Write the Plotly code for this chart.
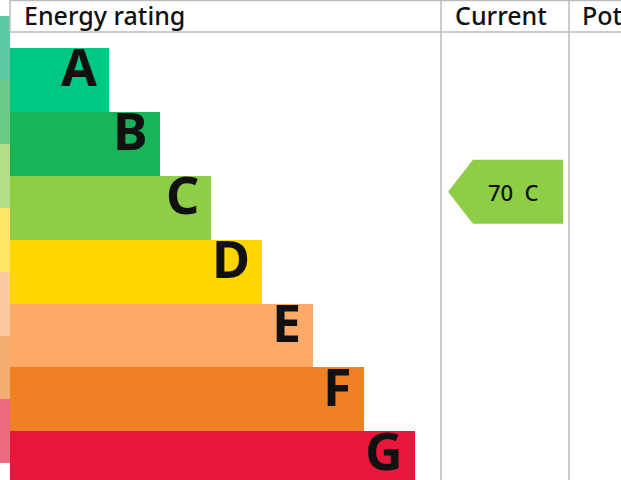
import plotly.graph_objects as go

bands = ["A", "B", "C", "D", "E", "F", "G"]
bar_ends = [109, 160, 211, 262, 313, 364, 415]
colors = ["#00c781", "#19b459", "#8dce46", "#ffd500", "#fcaa65", "#ef8023", "#e9153b"]
strip_colors = ["#5ec9a5", "#6bc98a", "#b5de8a", "#ffe466", "#fdc9a0", "#f4ad70", "#ef6a80"]
current_score = 70
current_band = "C"
headers = ["Energy rating", "Current", "Potential"]

row_h = 63.9
top = 32
centers = [top + row_h * (i + 0.5) for i in range(len(bands))]

fig = go.Figure()
fig.add_trace(go.Bar(orientation="h", y=centers, x=[10] * 7, base=0, width=row_h,
                     marker=dict(color=strip_colors, line_width=0), hoverinfo="skip"))
fig.add_trace(go.Bar(orientation="h", y=centers, x=[e - 10 for e in bar_ends], base=10, width=row_h,
                     marker=dict(color=colors, line_width=0), hoverinfo="skip"))

for b, e, c in zip(bands, bar_ends, centers):
    fig.add_annotation(x=e - 10, y=c + 2, text=b, showarrow=False, xanchor="right",
                       font=dict(size=52, color="#111", family="Noto Sans", weight="bold"))

# current arrow
ci = bands.index(current_band)
cy = centers[ci]
y0, y1 = cy - row_h / 2, cy + row_h / 2
fig.add_trace(go.Scatter(x=[448, 473, 563, 563, 473, 448], y=[cy, y0, y0, y1, y1, cy],
                         fill="toself", fillcolor=colors[ci], mode="lines", line_width=0,
                         hoverinfo="skip"))
fig.add_annotation(x=513, y=cy, text=f"{current_score}  {current_band}", showarrow=False,
                   font=dict(size=22, color="#111", family="Noto Sans", weight=500))

# grid lines
grid = "#bbbbbb"
for x in [441, 569]:
    fig.add_shape(type="line", x0=x, x1=x, y0=0, y1=480, line=dict(color=grid, width=1.5))
fig.add_shape(type="line", x0=10, x1=10, y0=0, y1=32, line=dict(color=grid, width=1.5))
for y in [0.5, 32]:
    fig.add_shape(type="line", x0=10, x1=621, y0=y, y1=y, line=dict(color=grid, width=1.5))

for text, x in zip(headers, [22, 453, 580]):
    fig.add_annotation(x=x, y=15, text=text, showarrow=False, xanchor="left",
                       font=dict(size=25, color="#111", family="Noto Sans", weight=500))

fig.update_layout(width=621, height=480, margin=dict(l=0, r=0, t=0, b=0),
                  paper_bgcolor="white", plot_bgcolor="white", showlegend=False,
                  bargap=0,
                  xaxis=dict(range=[0, 621], visible=False, fixedrange=True),
                  yaxis=dict(range=[480, 0], visible=False, fixedrange=True))
fig.write_html("out.html", config={"displayModeBar": False},
               post_script="document.body.style.margin='0';document.body.style.overflow='hidden';")
